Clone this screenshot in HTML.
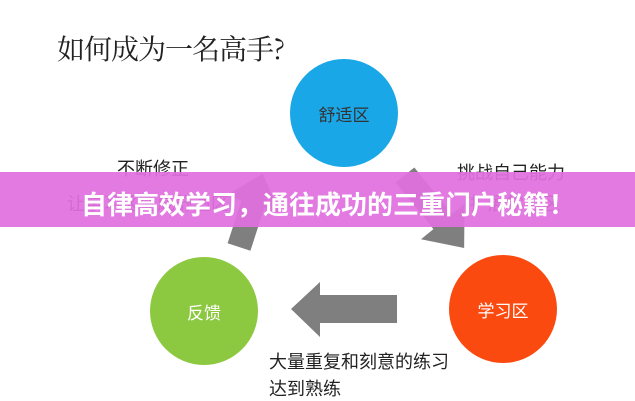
<!DOCTYPE html>
<html><head><meta charset="utf-8"><style>
body{margin:0;width:635px;height:400px;overflow:hidden;background:#fff;font-family:"Liberation Sans","Noto Sans CJK SC",sans-serif;position:relative}
.t{position:absolute;white-space:nowrap;color:#222}
.c{position:absolute;width:108px;height:108px;border-radius:50%;display:flex;align-items:center;justify-content:center;font-size:17px}
</style></head><body>
<div class="t" style="left:57px;top:28px;font-size:28px;font-family:'Noto Serif CJK SC',serif;letter-spacing:-1px">如何成为一名高手?</div>
<div class="c" style="left:290px;top:59px;background:#1aa7e8;color:#333">舒适区</div>
<div class="c" style="left:150px;top:257px;background:#8cc940;color:#fff">反馈</div>
<div class="c" style="left:449px;top:255px;background:#fb4a10;color:#fff">学习区</div>
<svg width="635" height="400" style="position:absolute;left:0;top:0">
<g fill="#7f7f7f">
<polygon points="291,309 320,282 320,295 397,295 397,323 320,323 320,337"/>
<g transform="translate(239,247) rotate(-72)"><polygon points="0,-12 45,-12 45,-28 77,0 45,28 45,12 0,12"/></g>
<g transform="translate(405,175) rotate(51)"><polygon points="0,-12 60,-12 60,-28 94,0 60,28 60,12 0,12"/></g>
</g></svg>
<div class="t" style="left:117px;top:155px;font-size:18px">不断修正</div>
<div class="t" style="left:457px;top:159px;font-size:18px">挑战自己能力</div>
<div class="t" style="left:67px;top:190px;font-size:18px">让学习区变成舒适区</div>
<div class="t" style="left:470px;top:190px;font-size:18px">扩展学习区</div>
<div class="t" style="left:269px;top:348px;font-size:18px">大量重复和刻意的练习</div>
<div class="t" style="left:269px;top:375px;font-size:18px">达到熟练</div>
<div style="position:absolute;left:0;top:172px;width:635px;height:55px;background:rgba(224,112,224,0.93)"></div>
<div class="t" style="left:81px;top:185px;font-size:26px;font-weight:bold;color:#fff">自律高效学习，通往成功的三重门户秘籍！</div>
</body></html>
